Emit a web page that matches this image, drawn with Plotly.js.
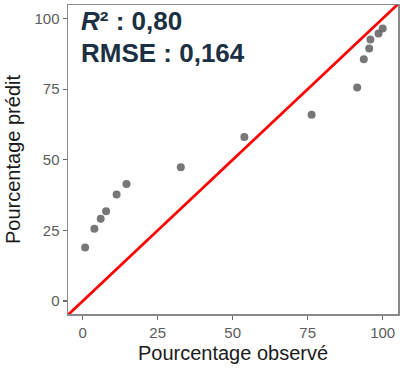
<!DOCTYPE html>
<html>
<head>
<meta charset="utf-8">
<script src="https://cdn.plot.ly/plotly-3.0.1.min.js"></script>
<style>html,body{margin:0;padding:0;background:#fff;}#chart{width:402px;height:368px;}</style>
</head>
<body>
<div id="chart"></div>
<script>
const observed = [0.8, 3.9, 6.0, 7.8, 11.3, 14.6, 32.7, 53.9, 76.3, 91.5, 93.7, 95.5, 95.9, 98.6, 100.0];
const predicted = [18.9, 25.6, 29.1, 31.8, 37.7, 41.4, 47.4, 58.1, 65.9, 75.6, 85.6, 89.4, 92.6, 94.7, 96.5];
const identityLine = [-10, 110];
const tickValues = [0, 25, 50, 75, 100];
const tickLabels = ["0", "25", "50", "75", "100"];
const statR2 = "0,80";
const statRMSE = "0,164";

const traces = [
  {
    x: observed, y: predicted, type: 'scatter', mode: 'markers',
    marker: {color: 'rgba(95,95,95,0.85)', size: 8},
    hoverinfo: 'skip', showlegend: false
  },
  {
    x: identityLine, y: identityLine, type: 'scatter', mode: 'lines',
    line: {color: '#ff0000', width: 2.8},
    hoverinfo: 'skip', showlegend: false
  }
];

const axisCommon = {
  showgrid: false, zeroline: false,
  showline: true, mirror: true, linecolor: '#8a8a8a', linewidth: 1.5,
  ticks: 'outside', ticklen: 4, tickwidth: 1.2, tickcolor: '#6a6a6a',
  tickvals: tickValues, ticktext: tickLabels,
  tickfont: {family: 'Liberation Sans, Arial, sans-serif', size: 15, color: '#5c5c5c'}
};

const layout = {
  width: 402, height: 368,
  margin: {l: 68, r: 4, t: 5, b: 54},
  paper_bgcolor: '#ffffff', plot_bgcolor: '#ffffff',
  xaxis: Object.assign({}, axisCommon, {
    range: [-4.9, 105.1],
    title: {text: 'Pourcentage observé', standoff: 6,
      font: {family: 'Liberation Sans, Arial, sans-serif', size: 20, color: '#1a1a1a'}}
  }),
  yaxis: Object.assign({}, axisCommon, {
    range: [-4.6, 104.8],
    title: {text: 'Pourcentage prédit', standoff: 8,
      font: {family: 'Liberation Sans, Arial, sans-serif', size: 20, color: '#1a1a1a'}}
  }),
  annotations: [
    {xref: 'paper', yref: 'paper', x: 0.033, y: 0.947, xanchor: 'left', yanchor: 'middle',
     text: '<b><i>R</i>² : ' + statR2 + '</b>', showarrow: false,
     font: {family: 'Liberation Sans, Arial, sans-serif', size: 26, color: '#1b3042'}},
    {xref: 'paper', yref: 'paper', x: 0.033, y: 0.844, xanchor: 'left', yanchor: 'middle',
     text: '<b>RMSE : ' + statRMSE + '</b>', showarrow: false,
     font: {family: 'Liberation Sans, Arial, sans-serif', size: 26, color: '#1b3042'}}
  ]
};

Plotly.newPlot('chart', traces, layout, {displayModeBar: false, staticPlot: true});
</script>
</body>
</html>
